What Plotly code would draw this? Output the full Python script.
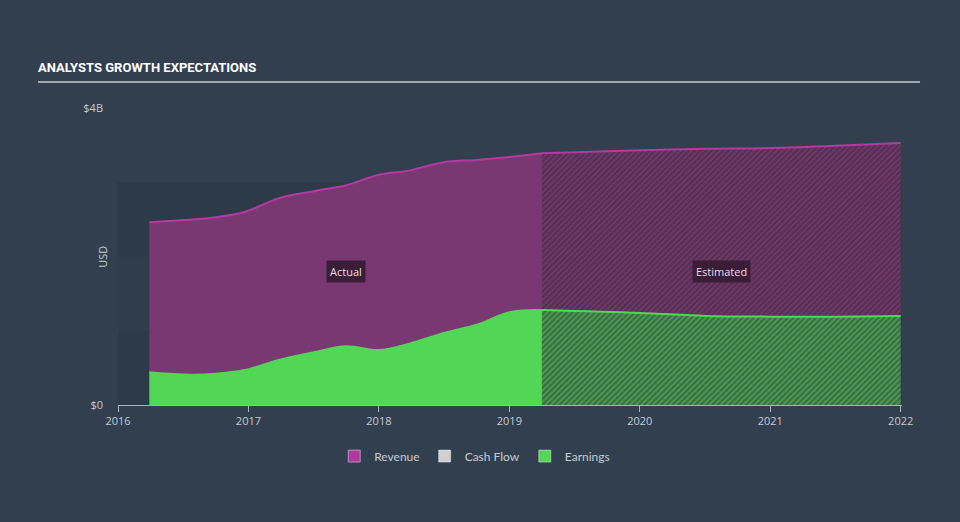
import plotly.graph_objects as go

# ---- data (USD billions) ----
actual_x = [2016.24, 2016.5, 2016.75, 2016.97, 2017.24, 2017.5, 2017.75, 2018.0, 2018.24, 2018.5, 2018.75, 2019.0, 2019.25]
revenue_actual = [2.46, 2.49, 2.53, 2.60, 2.79, 2.88, 2.96, 3.10, 3.16, 3.27, 3.30, 3.34, 3.39]
earnings_actual = [0.44, 0.41, 0.42, 0.47, 0.61, 0.71, 0.79, 0.74, 0.83, 0.97, 1.08, 1.25, 1.28]

est_x = [2019.25, 2020.0, 2020.5, 2021.0, 2021.5, 2022.0]
revenue_est = [3.39, 3.43, 3.45, 3.46, 3.49, 3.53]
earnings_est = [1.28, 1.24, 1.20, 1.19, 1.19, 1.20]

x_ticks = [2016, 2017, 2018, 2019, 2020, 2021, 2022]
y_ticks = [0, 4]
y_tick_labels = ["$0", "$4B"]

BG = "#323f4f"
REV_FILL = "#7a3872"
REV_LINE = "#b23aa0"
EARN = "#52d656"
TXT = "#c5cbd3"

fig = go.Figure()

fig.add_trace(go.Scatter(x=actual_x, y=earnings_actual, mode="lines", line=dict(color=EARN, width=2, shape="spline"),
                         fill="tozeroy", fillcolor=EARN, showlegend=False, hoverinfo="skip"))
fig.add_trace(go.Scatter(x=actual_x, y=revenue_actual, mode="lines", line=dict(color=REV_LINE, width=2, shape="spline"),
                         fill="tonexty", fillcolor=REV_FILL, showlegend=False, hoverinfo="skip"))
fig.add_trace(go.Scatter(x=est_x, y=earnings_est, mode="lines", line=dict(color=EARN, width=2, shape="spline"),
                         fill="tozeroy", fillcolor="rgba(0,0,0,0)",
                         fillpattern=dict(shape="/", bgcolor="#3c6c45", fgcolor="#5ad35e", size=4, solidity=0.45),
                         showlegend=False, hoverinfo="skip"))
fig.add_trace(go.Scatter(x=est_x, y=revenue_est, mode="lines", line=dict(color=REV_LINE, width=2, shape="spline"),
                         fill="tonexty", fillcolor="rgba(0,0,0,0)",
                         fillpattern=dict(shape="/", bgcolor="#52304f", fgcolor="#913b87", size=4, solidity=0.5),
                         showlegend=False, hoverinfo="skip"))

# legend-only entries
for name, col in [("Revenue", "#b0399e"), ("Cash Flow", "#d0d0d0"), ("Earnings", EARN)]:
    fig.add_trace(go.Bar(x=[None], y=[None], name=name, marker=dict(color=col), showlegend=True))

# background bands
band_cols = ["#2d3a48", "#303d4c", "#2d3a48"]
shapes = []
for i, c in enumerate(band_cols):
    shapes.append(dict(type="rect", xref="paper", yref="y", x0=0, x1=1, y0=i, y1=i + 1,
                       fillcolor=c, line=dict(width=0), layer="below"))
# title underline
shapes.append(dict(type="line", xref="paper", yref="paper", x0=-0.102, x1=1.023, y0=1.0875, y1=1.0875,
                   line=dict(color="#a3aab3", width=2)))

annotations = [
    dict(text="<b>ANALYSTS GROWTH EXPECTATIONS</b>", xref="paper", yref="paper", x=-0.104, y=1.138,
         xanchor="left", yanchor="middle", showarrow=False,
         font=dict(family="Roboto", size=13, color="#ffffff")),
    dict(text="USD", xref="paper", yref="paper", x=-0.02, y=0.5, textangle=-90, xanchor="center", yanchor="middle",
         showarrow=False, font=dict(family="Open Sans", size=11, color=TXT)),
    dict(text="Actual", x=2017.75, y=1.8, xref="x", yref="y", showarrow=False, bgcolor="#3a1d37",
         borderpad=3, font=dict(family="Open Sans", size=11, color="#e6dfe6")),
    dict(text="Estimated", x=2020.63, y=1.8, xref="x", yref="y", showarrow=False, bgcolor="#3a1d37",
         borderpad=3, font=dict(family="Open Sans", size=11, color="#e6dfe6")),
]

fig.update_layout(
    width=960, height=522,
    margin=dict(l=118, r=58, t=108, b=117),
    paper_bgcolor=BG, plot_bgcolor=BG,
    shapes=shapes, annotations=annotations,
    showlegend=True,
    legend=dict(orientation="h", x=0.455, y=-0.172, xanchor="center", yanchor="middle", traceorder="normal",
                font=dict(family="Lato", size=12, color=TXT), bgcolor="rgba(0,0,0,0)"),
    xaxis=dict(range=[2016, 2022.01], tickvals=x_ticks, ticktext=[str(v) for v in x_ticks],
               showgrid=False, zeroline=False, showline=True, linecolor="#aab2bb", linewidth=1,
               ticks="outside", ticklen=6, tickcolor="#aab2bb",
               tickfont=dict(family="Open Sans", size=11, color=TXT)),
    yaxis=dict(range=[0, 4], tickvals=y_ticks, ticktext=y_tick_labels, showgrid=False, zeroline=False,
               showline=False, ticks="", ticklabelstandoff=14,
               tickfont=dict(family="Open Sans", size=11, color=TXT)),
)

fig.write_html("out.html")
